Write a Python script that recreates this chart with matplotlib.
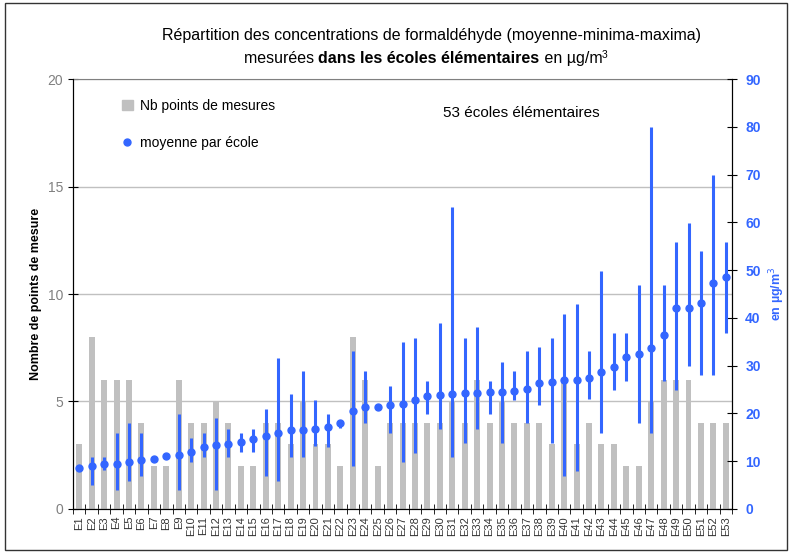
import numpy as np
import matplotlib
matplotlib.use("Agg")
import matplotlib.pyplot as plt
from matplotlib.lines import Line2D
from matplotlib.patches import Patch, Rectangle

plt.rcParams['font.family'] = ['Liberation Sans', 'DejaVu Sans']

# data
ecoles = ["E%d" % i for i in range(1, 54)]
nb_points = [3, 8, 6, 6, 6, 4, 2, 2, 6, 4,
             4, 5, 4, 2, 2, 4, 4, 3, 5, 3,
             3, 2, 8, 6, 2, 4, 4, 4, 4, 4,
             5, 4, 6, 4, 5, 4, 4, 4, 3, 6,
             3, 4, 3, 3, 2, 2, 5, 6, 6, 6,
             4, 4, 4]
moyenne = [8.6, 9.1, 9.4, 9.4, 9.8, 10.3, 10.5, 11.0, 11.2, 12.0,
           12.9, 13.4, 13.7, 14.1, 14.6, 15.3, 15.8, 16.5, 16.5, 16.7,
           17.2, 18.1, 20.5, 21.4, 21.4, 21.8, 22.0, 22.9, 23.6, 23.8,
           24.1, 24.3, 24.3, 24.5, 24.5, 24.8, 25.2, 26.3, 26.6, 26.9,
           26.9, 27.4, 28.7, 29.8, 31.9, 32.4, 33.6, 36.5, 42.0, 42.0,
           43.2, 47.4, 48.6]
minima = [8.6, 5.0, 8.2, 4.0, 5.9, 6.8, 10.5, 11.0, 4.0, 9.9,
          10.9, 4.0, 10.8, 11.9, 11.9, 6.8, 5.9, 10.8, 10.9, 13.2,
          13.0, 16.9, 9.0, 18.1, 21.4, 15.8, 9.9, 11.8, 19.9, 16.7,
          10.9, 13.9, 16.7, 19.9, 13.9, 22.9, 17.9, 21.8, 13.9, 6.8,
          8.0, 23.1, 15.8, 25.0, 26.8, 18.1, 15.8, 26.8, 25.0, 29.9,
          28.0, 28.0, 36.9]
maxima = [8.6, 10.8, 10.8, 15.8, 17.9, 15.8, 10.5, 11.0, 19.9, 14.9,
          15.8, 19.0, 16.7, 15.8, 16.7, 20.9, 31.7, 24.0, 28.9, 22.9,
          19.9, 18.6, 33.1, 28.9, 21.4, 25.8, 34.9, 35.8, 26.8, 39.0,
          63.2, 35.8, 38.0, 26.8, 30.8, 28.9, 33.1, 34.0, 35.8, 40.9,
          43.0, 33.0, 49.8, 36.8, 36.8, 46.8, 79.9, 46.8, 55.8, 59.9,
          54.0, 69.9, 55.8]

bleu = '#3366ff'
gris = '#c0c0c0'

fig = plt.figure(figsize=(7.93, 5.53), dpi=100)
ax = fig.add_axes([0.0921, 0.0796, 0.831, 0.7775])
x = np.arange(len(ecoles))

ax.bar(x, nb_points, width=0.48, color=gris, zorder=2)
ax.set_xlim(-0.5, len(ecoles) - 0.5)
ax.set_ylim(0, 20)
ax.set_yticks([0, 5, 10, 15, 20])
ax.tick_params(axis='y', direction='inout', length=7, colors='black',
               labelcolor='#808080', labelsize=10)
ax.yaxis.grid(True, color='#c0c0c0', lw=1, zorder=0)
ax.set_axisbelow(True)
ax.set_xticks(x)
ax.set_xticklabels(ecoles, rotation=90, fontsize=8, color='#333333')
ax.tick_params(axis='x', length=0, pad=5)
ax.set_xticks(np.arange(-0.5, len(ecoles)), minor=True)
ax.tick_params(axis='x', which='minor', direction='inout', length=7)
ax.spines['top'].set_color('#808080')
ax.set_ylabel('Nombre de points de mesure', fontsize=9, fontweight='bold',
              labelpad=4)

ax2 = ax.twinx()
moy = np.array(moyenne)
err = [moy - np.array(minima), np.array(maxima) - moy]
ax2.errorbar(x, moy, yerr=err, fmt='o', color=bleu, ms=5, elinewidth=2.2,
             capsize=0, zorder=3)
ax2.set_ylim(0, 90)
ax2.set_yticks(range(0, 91, 10))
ax2.tick_params(axis='y', direction='inout', length=7, colors='black',
                labelcolor=bleu, labelsize=10, pad=6)
for lab in ax2.get_yticklabels():
    lab.set_fontweight('bold')
ax2.spines['top'].set_visible(False)
ax2.set_ylabel('en µg/m$^3$', color=bleu, fontsize=9, fontweight='bold',
               rotation=90, labelpad=5)

# legend and annotation
handles = [Patch(color=gris), Line2D([], [], marker='o', ls='', color=bleu, ms=5)]
ax.legend(handles, ['Nb points de mesures', 'moyenne par école'],
          loc='upper left', bbox_to_anchor=(0.055, 0.983), frameon=False,
          fontsize=10, labelspacing=1.65, handlelength=0.8, handletextpad=0.5,
          handleheight=0.8)
ax.text(0.68, 0.921, '53 écoles élémentaires', transform=ax.transAxes,
        ha='center', va='center', fontsize=11)

# title with a bold part
fig.text(0.544, 0.935, 'Répartition des concentrations de formaldéhyde '
         '(moyenne-minima-maxima)', ha='center', va='center', fontsize=11.5)
fig.canvas.draw()
r = fig.canvas.get_renderer()
morceaux = [('mesurées ', 'normal', 11.5, 0), ('dans les écoles élémentaires', 'bold', 11.5, 0),
            (' en µg/m', 'normal', 11.5, 0), ('3', 'normal', 7.5, 5)]
textes = []
for s, w, fs, dy in morceaux:
    t = fig.text(0, 0, s, fontsize=fs, fontweight=w, va='baseline')
    textes.append((t, t.get_window_extent(r).width, dy))
total = sum(w for _, w, _ in textes)
x0 = 0.537 * fig.bbox.width - total / 2
y0 = fig.bbox.height * (1 - 0.114)
for t, w, dy in textes:
    t.set_transform(None)
    t.set_position((x0, y0 + dy))
    x0 += w

fig.patches.append(Rectangle((0.0063, 0.005), 0.986, 0.989, transform=fig.transFigure,
                             fill=False, edgecolor='#333333', lw=1))

fig.savefig('out.png', dpi=100)
